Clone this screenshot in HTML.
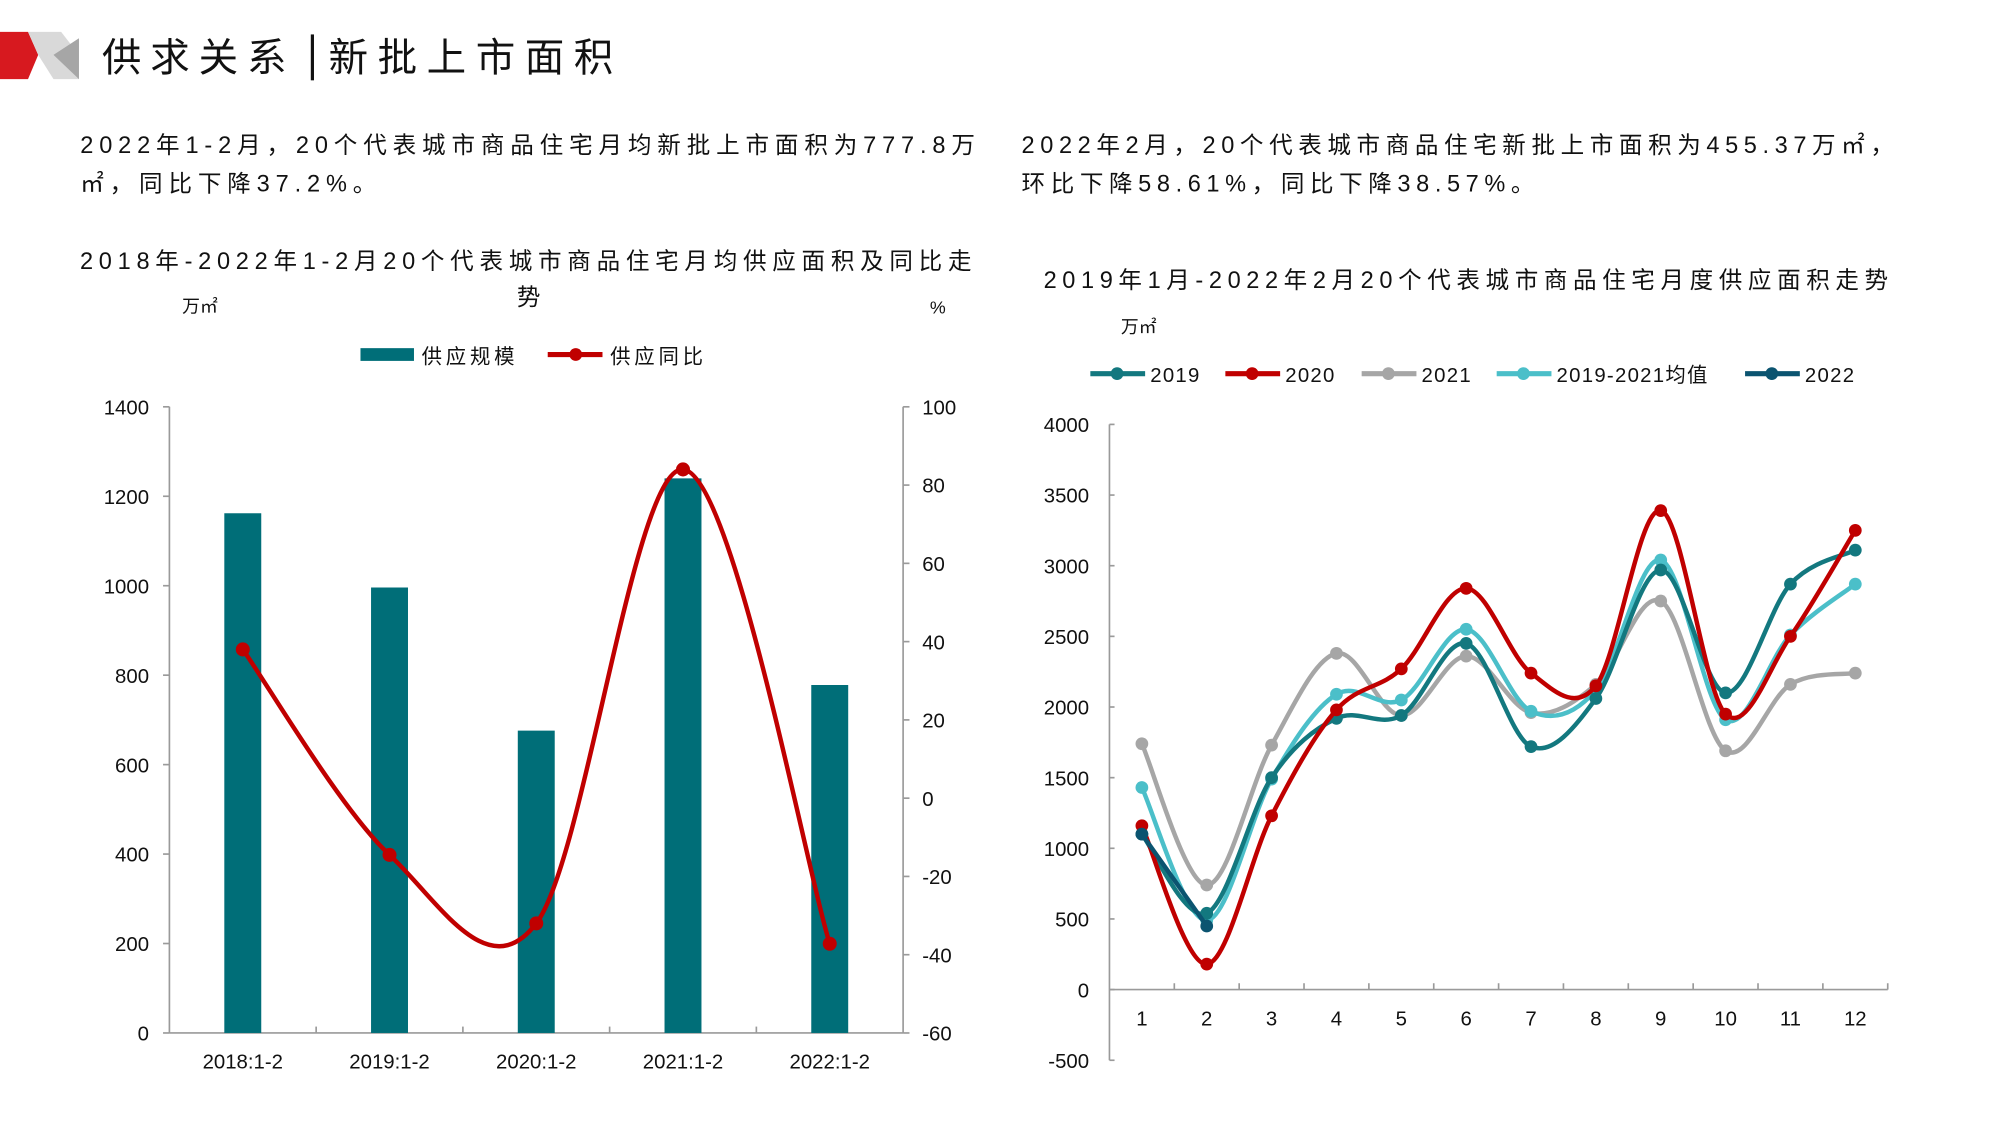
<!DOCTYPE html>
<html><head><meta charset="utf-8">
<style>
html,body{margin:0;padding:0;background:#fff;}
svg{display:block;}
text{font-family:"Liberation Sans","Noto Sans CJK SC",sans-serif;fill:#111;}
</style></head>
<body>
<svg id="root" width="1996" height="1123" viewBox="0 0 1567 880.6" preserveAspectRatio="none" xmlns="http://www.w3.org/2000/svg">
  <g>
    <polygon points="0,25 22,25 30,43 22,62 0,62" fill="#d7191f"/>
    <polygon points="22,25 48,25 62,43 62,62 42,62 30,43" fill="#d9d9d9"/>
    <polygon points="42,43 62,30 62,62" fill="#a6a6a6"/>
  </g>
  <text x="80" y="56" font-size="31" letter-spacing="7">供求关系</text>
  <rect x="244" y="27" width="2.5" height="36" fill="#111"/>
  <text x="258" y="56" font-size="31" letter-spacing="7.5">新批上市面积</text>

  <text x="63" y="120" font-size="18.5" letter-spacing="4.6">2022年1-2月，20个代表城市商品住宅月均新批上市面积为777.8万</text>
  <text x="63" y="150" font-size="18.5" letter-spacing="4.6">㎡，同比下降37.2%。</text>
  <text x="802" y="120" font-size="18.5" letter-spacing="4.4">2022年2月，20个代表城市商品住宅新批上市面积为455.37万㎡，</text>
  <text x="802" y="150" font-size="18.5" letter-spacing="4.4">环比下降58.61%，同比下降38.57%。</text>

  <!-- LEFT CHART -->
  <g id="leftChart">
    <text x="415" y="211" font-size="18.5" letter-spacing="4.5" text-anchor="middle">2018年-2022年1-2月20个代表城市商品住宅月均供应面积及同比走</text>
    <text x="415" y="239" font-size="18.5" text-anchor="middle">势</text>
    <text x="143" y="245" font-size="14">万㎡</text>
    <text x="730" y="246" font-size="14">%</text>
    <g>
      <rect x="283" y="273" width="42" height="10" fill="#006e78"/>
      <text x="331" y="285" font-size="16" letter-spacing="3">供应规模</text>
      <line x1="430" y1="278" x2="473" y2="278" stroke="#c00000" stroke-width="4"/>
      <circle cx="452" cy="278" r="5" fill="#c00000"/>
      <text x="479" y="285" font-size="16" letter-spacing="3">供应同比</text>
    </g>
  </g>

  <!-- RIGHT CHART -->
  <g id="rightChart">
    <text x="1153" y="226" font-size="18.5" letter-spacing="4.4" text-anchor="middle">2019年1月-2022年2月20个代表城市商品住宅月度供应面积走势</text>
    <text x="880" y="261" font-size="14">万㎡</text>
    <g id="rLegend"></g>
  </g>
</svg>
<script>
// ---- Left chart data ----
const leftCategories = ["2018:1-2","2019:1-2","2020:1-2","2021:1-2","2022:1-2"];
const supplyValues = [1162, 996, 676, 1240, 778];
const yoyValues = [38, -14.5, -32, 84, -37.2];
const leftTicks = [0,200,400,600,800,1000,1200,1400];
const rightTicks = [-60,-40,-20,0,20,40,60,80,100];

// ---- Right chart data ----
const months = ["1","2","3","4","5","6","7","8","9","10","11","12"];
const s2019 = [1100,540,1500,1920,1940,2450,1720,2060,2970,2100,2870,3110];
const s2020 = [1160,180,1230,1980,2270,2840,2240,2150,3390,1950,2500,3250];
const s2021 = [1740,740,1730,2380,1940,2360,1960,2160,2750,1690,2160,2240];
const sAvg  = [1430,490,1490,2090,2050,2550,1970,2120,3040,1910,2510,2870];
const s2022 = [1100,450];
const seriesNames = ["2019","2020","2021","2019-2021均值","2022"];
const rTicks = [-500,0,500,1000,1500,2000,2500,3000,3500,4000];

const NS = "http://www.w3.org/2000/svg";
function mk(tag, attrs, parent){const e=document.createElementNS(NS,tag);for(const k in attrs)e.setAttribute(k,attrs[k]);parent.appendChild(e);return e;}
function smooth(pts){
  let d="M"+pts[0][0]+","+pts[0][1];
  for(let i=0;i<pts.length-1;i++){
    const p0=pts[i-1]||pts[i],p1=pts[i],p2=pts[i+1],p3=pts[i+2]||p2;
    const t=1/6;
    const c1=[p1[0]+(p2[0]-p0[0])*t,p1[1]+(p2[1]-p0[1])*t];
    const c2=[p2[0]-(p3[0]-p1[0])*t,p2[1]-(p3[1]-p1[1])*t];
    d+=" C"+c1+" "+c2+" "+p2;
  }
  return d;
}

// ---- Left chart ----
const L=document.getElementById("leftChart");
const lx0=133,lx1=709,ly0=810,ly1=319;
const yL=v=>ly0-(v-0)/1400*(ly0-ly1);
const yR=v=>ly0-(v+60)/160*(ly0-ly1);
const band=(lx1-lx0)/leftCategories.length;
const xL=i=>lx0+band*(i+0.5);
mk("line",{x1:lx0,y1:ly1,x2:lx0,y2:ly0,stroke:"#9a9a9a","stroke-width":1.3},L);
mk("line",{x1:lx1,y1:ly1,x2:lx1,y2:ly0,stroke:"#9a9a9a","stroke-width":1.3},L);
mk("line",{x1:lx0,y1:ly0,x2:lx1,y2:ly0,stroke:"#9a9a9a","stroke-width":1.3},L);
leftTicks.forEach(v=>{
  mk("line",{x1:lx0-5,y1:yL(v),x2:lx0,y2:yL(v),stroke:"#9a9a9a","stroke-width":1.3},L);
  const t=mk("text",{x:117,y:yL(v)+6,"font-size":16,"text-anchor":"end"},L);t.textContent=v;
  
  
});
rightTicks.forEach(v=>{
  mk("line",{x1:lx1,y1:yR(v),x2:lx1+5,y2:yR(v),stroke:"#9a9a9a","stroke-width":1.3},L);
  const t=mk("text",{x:724,y:yR(v)+6,"font-size":16},L);t.textContent=v;
  
  
});
for(let i=1;i<leftCategories.length;i++) mk("line",{x1:lx0+band*i,y1:ly0,x2:lx0+band*i,y2:ly0-5,stroke:"#9a9a9a","stroke-width":1.3},L);
leftCategories.forEach((c,i)=>{
  const t=mk("text",{x:xL(i),y:838,"font-size":16,"text-anchor":"middle"},L);t.textContent=c;
  
  
});
supplyValues.forEach((v,i)=>{
  const r=mk("rect",{x:xL(i)-14.5,y:yL(v),width:29,height:ly0-yL(v),fill:"#006e78"},L);
  
  
});
const yoyPts=yoyValues.map((v,i)=>[xL(i),yR(v)]);
const yl=mk("path",{d:smooth(yoyPts),fill:"none",stroke:"#c00000","stroke-width":3.5},L);


yoyPts.forEach(p=>{
  const c=mk("circle",{cx:p[0],cy:p[1],r:5.5,fill:"#c00000"},L);
  
  
});

// ---- Right chart ----
const R=document.getElementById("rightChart");
const rx0=871,rx1=1482,rZero=776,per500=55.4;
const yM=v=>rZero-v/500*per500;
const step=(rx1-rx0)/12;
const xM=i=>rx0+step*(i+0.5);
mk("line",{x1:rx0,y1:yM(4000),x2:rx0,y2:yM(-500),stroke:"#9a9a9a","stroke-width":1.3},R);
mk("line",{x1:rx0,y1:rZero,x2:rx1,y2:rZero,stroke:"#9a9a9a","stroke-width":1.3},R);
rTicks.forEach(v=>{
  mk("line",{x1:rx0,y1:yM(v),x2:rx0+4,y2:yM(v),stroke:"#9a9a9a","stroke-width":1.3},R);
  const t=mk("text",{x:855,y:yM(v)+6,"font-size":16,"text-anchor":"end"},R);t.textContent=v;
  
  
});
for(let i=1;i<=12;i++) mk("line",{x1:rx0+step*i,y1:rZero,x2:rx0+step*i,y2:rZero-5,stroke:"#9a9a9a","stroke-width":1.3},R);
months.forEach((m,i)=>{
  const t=mk("text",{x:xM(i),y:804,"font-size":16,"text-anchor":"middle"},R);t.textContent=m;
  
  
});
const allSeries=[s2021,sAvg,s2019,s2020,s2022];
const colors=["#a6a6a6","#4bbfc9","#13787f","#c00000","#0b5470"];
allSeries.forEach((s,k)=>{
  const pts=s.map((v,i)=>[xM(i),yM(v)]);
  const p=mk("path",{d:smooth(pts),fill:"none",stroke:colors[k],"stroke-width":3.5},R);
  
  
  pts.forEach(q=>{
    const c=mk("circle",{cx:q[0],cy:q[1],r:5,fill:colors[k]},R);
    
    
  });
});
const lg=document.getElementById("rLegend");
const legX=[856,962,1069,1175,1370];
const legCol=["#13787f","#c00000","#a6a6a6","#4bbfc9","#0b5470"];
seriesNames.forEach((n,i)=>{
  mk("line",{x1:legX[i],y1:293,x2:legX[i]+43,y2:293,stroke:legCol[i],"stroke-width":4},lg);
  mk("circle",{cx:legX[i]+21,cy:293,r:5,fill:legCol[i]},lg);
  const t=mk("text",{x:legX[i]+47,y:299.5,"font-size":16,"letter-spacing":1},lg);t.textContent=n;
  
  
});
</script>
</body></html>
